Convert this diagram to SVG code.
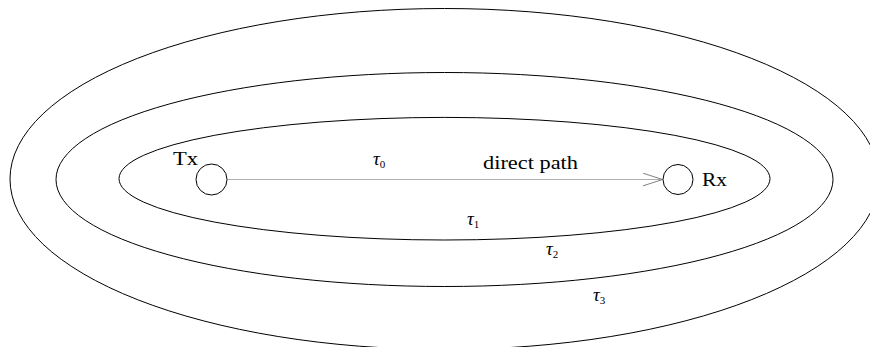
<svg xmlns="http://www.w3.org/2000/svg" width="870" height="347" viewBox="0 0 870 347">
<style>
.ell{fill:none;stroke:#000;stroke-width:1}
.node{fill:#fff;stroke:#000;stroke-width:1}
.lbl{font-family:'Liberation Serif','DejaVu Serif',serif;font-size:18px;fill:#000}
.tau{font-family:'Liberation Serif','DejaVu Serif',serif;font-style:italic;font-size:19px;fill:#000}
.sub{font-style:normal;font-size:11px}
.conn{fill:none;stroke:#b0b0b0;stroke-width:1.2}
</style>
<defs>
<marker id="arr" markerWidth="22" markerHeight="16" refX="20" refY="7" orient="auto" markerUnits="userSpaceOnUse">
<path d="M0,0.5 L20,7 L0,13.5" fill="none" stroke="#808080" stroke-width="1"/>
</marker>
</defs>
<g id="regions">
<ellipse id="e3" class="ell" cx="444.5" cy="179" rx="434.5" ry="170.5"/>
<ellipse id="e2" class="ell" cx="444.5" cy="179.5" rx="388.5" ry="107"/>
<ellipse id="e1" class="ell" cx="444.5" cy="178.7" rx="325.5" ry="61.3"/>
</g>
<g id="connectors">
<line class="conn" x1="227.5" y1="179.5" x2="662.5" y2="179.5" marker-end="url(#arr)"/>
</g>
<g id="tx">
<circle class="node" cx="211.5" cy="179.5" r="15.5"/>
<text class="lbl" x="173" y="165" textLength="25" lengthAdjust="spacingAndGlyphs">Tx</text>
</g>
<g id="rx">
<circle class="node" cx="678" cy="179.5" r="15"/>
<text class="lbl" x="702" y="186" textLength="25" lengthAdjust="spacingAndGlyphs">Rx</text>
</g>
<g id="labels">
<text class="lbl" x="483" y="169" textLength="95" lengthAdjust="spacingAndGlyphs">direct path</text>
<text class="tau" x="373" y="165">τ<tspan class="sub" dy="3">0</tspan></text>
<text class="tau" x="467" y="225">τ<tspan class="sub" dy="3">1</tspan></text>
<text class="tau" x="546" y="255">τ<tspan class="sub" dy="3">2</tspan></text>
<text class="tau" x="593" y="301">τ<tspan class="sub" dy="3">3</tspan></text>
</g>
</svg>
